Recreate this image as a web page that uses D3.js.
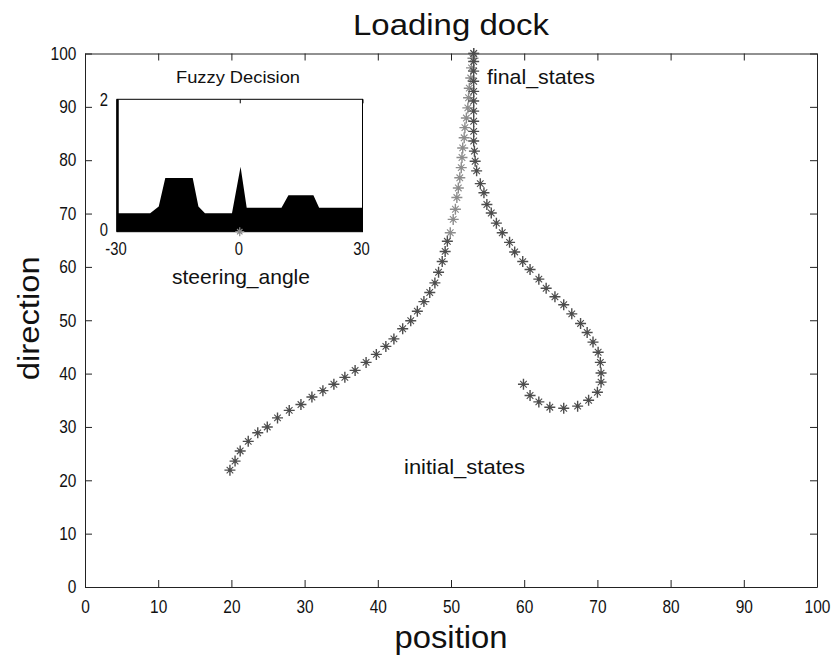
<!DOCTYPE html>
<html><head><meta charset="utf-8">
<script src="https://cdn.jsdelivr.net/npm/d3@7"></script>
<style>body{margin:0;background:#fff;} svg{display:block;} text{font-family:"Liberation Sans",Arial,sans-serif;fill:#111;}</style>
</head><body><svg id="c" width="834" height="662"></svg>
<script>
// ---- data ----
const posTicks = [0,10,20,30,40,50,60,70,80,90,100];
const dirTicks = [0,10,20,30,40,50,60,70,80,90,100];
const traj1Pos = [19.8,20.5,21.2,22.3,23.6,24.9,26.3,27.9,29.5,31.0,32.5,34.0,35.5,36.9,38.4,39.8,41.1,42.2,43.4,44.5,45.4,46.3,47.1,47.8,48.3,48.8,49.2,49.5,49.9,50.3,50.6,50.8,51.0,51.2,51.4,51.5,51.6,51.8,51.9,52.1,52.3,52.4,52.5,52.7,52.8,53.0,53.1];
const traj1Dir = [21.9,23.6,25.5,27.3,28.9,30.0,31.7,33.1,34.2,35.6,36.8,38.0,39.3,40.6,42.1,43.6,45.1,46.5,48.4,49.9,51.7,53.5,55.2,57.0,59.0,61.0,62.9,64.8,66.4,68.9,70.8,73.0,74.8,76.7,78.6,80.5,82.3,84.2,86.1,87.9,89.8,91.7,93.5,95.4,97.3,99.1,100];
const traj2Pos = [59.9,60.8,62.0,63.5,65.4,67.3,68.8,70.0,70.5,70.5,70.4,70.1,69.4,68.6,67.7,66.5,65.4,64.2,63.0,62.0,60.8,59.8,58.7,58.0,57.0,56.2,55.5,54.9,54.5,54.0,53.5,53.3,53.2,53.1,53.1,53.1,53.1,53.1,53.1,53.1,53.1,53.1,53.1];
const traj2Dir = [38.0,35.9,34.7,33.7,33.5,33.9,35.0,36.5,38.4,40.1,42.1,44.0,45.9,47.7,49.4,51.2,52.9,54.4,56.0,57.7,59.5,61.0,62.8,64.6,66.4,68.2,70.1,71.7,73.9,75.6,78.0,79.8,81.7,83.6,85.4,87.3,89.2,91.1,92.9,94.8,96.7,98.5,100];
// inset: fuzzy decision membership vs steering angle
const steerAngle = [-30,-21.9,-19.8,-18.2,-11.5,-10.1,-8.5,-1.9,0.2,1.7,10.2,11.9,18.0,19.4,30];
const membership = [0.28,0.28,0.38,0.81,0.81,0.38,0.28,0.28,0.98,0.36,0.36,0.55,0.55,0.36,0.36];
const insetXTicks = [-30,0,30];
const insetYTicks = [0,2];

const svg = d3.select("#c");
const W=834,H=662, m={l:85,r:17,t:53.5,b:75};
const x = d3.scaleLinear().domain([0,100]).range([m.l,W-m.r]);
const y = d3.scaleLinear().domain([0,100]).range([H-m.b,m.t]);

const axCol="#222";
function styleAxis(g){g.selectAll("path.domain").attr("stroke",axCol);g.selectAll(".tick line").attr("stroke",axCol);}
const narrow = g=>g.selectAll("text").attr("font-size",18).attr("fill","#111").attr("transform","scale(0.86,1)");
svg.append("g").attr("transform",`translate(0,${H-m.b})`)
  .call(d3.axisBottom(x).tickValues(posTicks).tickSizeInner(-7).tickSizeOuter(0).tickPadding(13))
  .call(styleAxis).call(narrow);
svg.append("g").attr("transform",`translate(0,${m.t})`)
  .call(d3.axisTop(x).tickValues(posTicks).tickSizeInner(-7).tickSizeOuter(0).tickFormat(""))
  .call(styleAxis);
svg.append("g").attr("transform",`translate(${m.l},0)`)
  .call(d3.axisLeft(y).tickValues(dirTicks).tickSizeInner(-7).tickSizeOuter(0).tickPadding(10))
  .call(styleAxis).call(narrow);
svg.append("g").attr("transform",`translate(${W-m.r},0)`)
  .call(d3.axisRight(y).tickValues(dirTicks).tickSizeInner(-7).tickSizeOuter(0).tickFormat(""))
  .call(styleAxis);

// titles
const cx=(x(0)+x(100))/2;
svg.append("text").attr("x",cx).attr("y",35).attr("text-anchor","middle").attr("font-size",30)
  .attr("textLength",196).attr("lengthAdjust","spacingAndGlyphs").text("Loading dock");
svg.append("text").attr("x",cx).attr("y",648).attr("text-anchor","middle").attr("font-size",31)
  .attr("textLength",113).attr("lengthAdjust","spacingAndGlyphs").text("position");
svg.append("text").attr("transform",`translate(39,${(y(0)+y(100))/2-2}) rotate(-90)`).attr("text-anchor","middle").attr("font-size",30)
  .attr("textLength",124).attr("lengthAdjust","spacingAndGlyphs").text("direction");

// star marker: '+' arms and shorter diagonal arms
const plusArm = r => `M${-r},0L${r},0M0,${-r}L0,${r}`;
const crossArm = r => { const d=r*0.6; return `M${-d},${-d}L${d},${d}M${-d},${d}L${d},${-d}`; };
function drawTraj(px,py,cls,colFn){
  const pts = px.map((v,i)=>({p:v,d:py[i]}));
  const g = svg.append("g").attr("class",cls);
  const tr = d=>`translate(${x(d.p)},${y(d.d)})`;
  g.selectAll("path.p").data(pts).join("path").attr("class","p").attr("transform",tr)
    .attr("d",plusArm(5.5)).attr("fill","none").attr("stroke",colFn).attr("stroke-width",1.4);
  g.selectAll("path.x").data(pts).join("path").attr("class","x").attr("transform",tr)
    .attr("d",crossArm(5.5)).attr("fill","none").attr("stroke",colFn).attr("stroke-width",1.1);
  g.selectAll("circle").data(pts).join("circle")
    .attr("cx",d=>x(d.p)).attr("cy",d=>y(d.d)).attr("r",1.8).attr("fill",colFn);
}
drawTraj(traj1Pos,traj1Dir,"t1",d=>d.d>66?"#8c8c8c":"#4d4d4d");
drawTraj(traj2Pos,traj2Dir,"t2",()=>"#4d4d4d");

svg.append("text").attr("x",487).attr("y",84).attr("font-size",21).attr("textLength",108).attr("lengthAdjust","spacingAndGlyphs").text("final_states");
svg.append("text").attr("x",404).attr("y",474).attr("font-size",21).attr("textLength",121).attr("lengthAdjust","spacingAndGlyphs").text("initial_states");

// ---- inset ----
const ix = d3.scaleLinear().domain([-30,30]).range([117,362.5]);
const iy = d3.scaleLinear().domain([0,2]).range([231.7,99.3]);
const ig = svg.append("g");
ig.append("rect").attr("x",117).attr("y",99.3).attr("width",245.5).attr("height",132.4).attr("fill","#fff");
const area = d3.area().x((d,i)=>ix(steerAngle[i])).y0(iy(0)).y1((d,i)=>iy(membership[i]));
ig.append("path").datum(membership).attr("d",area).attr("fill","#000");
ig.append("rect").attr("x",117).attr("y",99.3).attr("width",245.5).attr("height",132.4).attr("fill","none").attr("stroke","#000").attr("stroke-width",1);
ig.append("line").attr("x1",117.5).attr("x2",117.5).attr("y1",99.3).attr("y2",231.7).attr("stroke","#000").attr("stroke-width",2.5);
ig.append("g").attr("transform","translate(0,99.3)")
  .call(d3.axisTop(ix).tickValues(insetXTicks).tickSizeInner(-4).tickSizeOuter(0).tickFormat(""))
  .call(g=>g.select("path.domain").remove()).call(g=>g.selectAll("line").attr("stroke","#000"));
ig.selectAll("text.ixt").data(insetXTicks).join("text").attr("class","ixt")
  .attr("transform",d=>`translate(${ix(d)-1},255) scale(0.78,1)`).attr("text-anchor","middle").attr("font-size",19).text(d=>d);
ig.selectAll("text.iyt").data(insetYTicks).join("text").attr("class","iyt")
  .attr("transform",d=>`translate(108,${iy(d)+(d===0?4:7)}) scale(0.78,1)`).attr("text-anchor","end").attr("font-size",19).text(d=>d);
ig.append("path").attr("transform",`translate(${ix(0)},${iy(0)})`).attr("d",plusArm(4.5)+crossArm(4.5)).attr("stroke","#888").attr("stroke-width",1.2).attr("fill","none");
ig.append("text").attr("x",238).attr("y",83).attr("text-anchor","middle").attr("font-size",17)
  .attr("textLength",124).attr("lengthAdjust","spacingAndGlyphs").text("Fuzzy Decision");
ig.append("text").attr("x",241).attr("y",284).attr("text-anchor","middle").attr("font-size",21)
  .attr("textLength",138).attr("lengthAdjust","spacingAndGlyphs").text("steering_angle");
</script></body></html>
